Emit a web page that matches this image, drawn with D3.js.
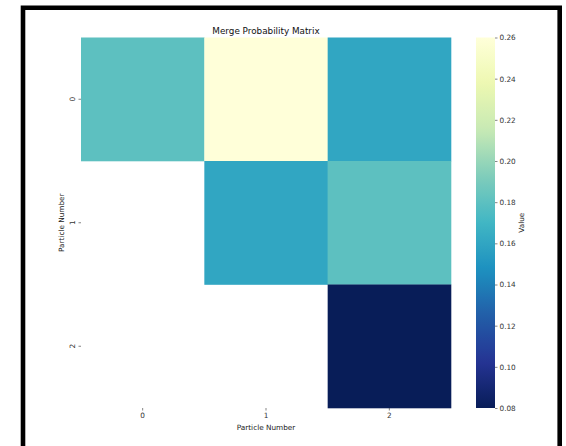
<!DOCTYPE html>
<html>
<head>
<meta charset="utf-8">
<script src="https://cdn.jsdelivr.net/npm/d3@7"></script>
<style>
  html, body { margin: 0; padding: 0; background: #fff; overflow: hidden; }
  svg { display: block; font-family: "DejaVu Sans", sans-serif; }
</style>
</head>
<body>
<div id="chart"></div>
<script>
// particle indices
const particles = ["0", "1", "2"]
// merge probability, upper triangle only (row, col, value)
const rowIdx = [0, 0, 0, 1, 1, 2]
const colIdx = [0, 1, 2, 1, 2, 2]
const probs = [0.18, 0.26, 0.16, 0.16, 0.18, 0.08]
const cbarTicks = [0.08, 0.10, 0.12, 0.14, 0.16, 0.18, 0.20, 0.22, 0.24, 0.26]
// YlGnBu (colorbrewer 9), used reversed
const ylgnbu = ["#ffffd9", "#edf8b1", "#c7e9b4", "#7fcdbb", "#41b6c4", "#1d91c0", "#225ea8", "#253494", "#081d58"]

const W = 566, H = 446
const svg = d3.select("#chart").append("svg").attr("width", W).attr("height", H)

// outer black frame, open at the bottom (cut off by the picture)
svg.append("path")
    .attr("d", "M23,460 L23,7.7 L559.7,7.7 L559.7,460")
    .attr("fill", "none").attr("stroke", "#000").attr("stroke-width", 4.6)

const plot = { left: 81, right: 451, top: 37.5, bottom: 408 }

const x = d3.scaleBand().domain(particles).range([plot.left, plot.right])
const y = d3.scaleBand().domain(particles).range([plot.top, plot.bottom])

const vmin = 0.08, vmax = 0.26
const stops = d3.range(ylgnbu.length).map(i => i / (ylgnbu.length - 1))
const cmap = d3.scaleLinear().domain(stops).range(ylgnbu.slice().reverse()).interpolate(d3.interpolateRgb)
const color = v => cmap((v - vmin) / (vmax - vmin))

const cells = probs.map((v, i) => ({ r: particles[rowIdx[i]], c: particles[colIdx[i]], v }))

svg.append("g").selectAll("rect")
    .data(cells)
    .enter()
    .append("rect")
    .attr("x", d => x(d.c))
    .attr("y", d => y(d.r))
    .attr("width", x.bandwidth() + 0.3)
    .attr("height", y.bandwidth() + 0.3)
    .attr("fill", d => color(d.v))

const tickColor = "#333"
const fs = 7.3

// x axis
const xAxis = svg.append("g")
    .attr("transform", `translate(0,${plot.bottom})`)
    .call(d3.axisBottom(x).tickSize(2.5).tickPadding(2))
xAxis.select(".domain").remove()
xAxis.selectAll("line").attr("stroke", tickColor).attr("stroke-width", 0.6)
xAxis.selectAll("text").attr("font-size", fs).attr("fill", tickColor).attr("font-family", "DejaVu Sans")

// y axis, rotated labels
const yAxis = svg.append("g")
    .attr("transform", `translate(${plot.left},0)`)
    .call(d3.axisLeft(y).tickSize(2.5).tickPadding(2))
yAxis.select(".domain").remove()
yAxis.selectAll("line").attr("stroke", tickColor).attr("stroke-width", 0.6)
yAxis.selectAll("text")
    .attr("font-size", fs).attr("fill", tickColor).attr("font-family", "DejaVu Sans")
    .attr("x", null).attr("dy", null)
    .attr("text-anchor", "middle")
    .attr("transform", "translate(-8,0) rotate(-90)")
    .attr("dominant-baseline", "middle")

// axis labels
svg.append("text")
    .attr("x", (plot.left + plot.right) / 2).attr("y", 429.5)
    .attr("text-anchor", "middle").attr("font-size", fs).attr("fill", "#222")
    .text("Particle Number")

svg.append("text")
    .attr("transform", `translate(63.5,${(plot.top + plot.bottom) / 2}) rotate(-90)`)
    .attr("text-anchor", "middle").attr("font-size", fs).attr("fill", "#222")
    .text("Particle Number")

// title
svg.append("text")
    .attr("x", (plot.left + plot.right) / 2).attr("y", 34)
    .attr("text-anchor", "middle").attr("font-size", 8.8).attr("fill", "#111")
    .text("Merge Probability Matrix")

// colorbar
const cb = { left: 476, right: 495, top: 37.5, bottom: 408 }
const cy = d3.scaleLinear().domain([vmin, vmax]).range([cb.bottom, cb.top])
const defs = svg.append("defs")
const grad = defs.append("linearGradient")
    .attr("id", "cbgrad").attr("x1", 0).attr("y1", 1).attr("x2", 0).attr("y2", 0)
grad.selectAll("stop")
    .data(d3.range(0, 1.0001, 0.02))
    .enter()
    .append("stop")
    .attr("offset", d => d)
    .attr("stop-color", d => cmap(d))

svg.append("rect")
    .attr("x", cb.left).attr("y", cb.top)
    .attr("width", cb.right - cb.left).attr("height", cb.bottom - cb.top)
    .attr("fill", "url(#cbgrad)")

const cAxis = svg.append("g")
    .attr("transform", `translate(${cb.right},0)`)
    .call(d3.axisRight(cy).tickValues(cbarTicks).tickFormat(d3.format(".2f")).tickSize(2.5).tickPadding(2))
cAxis.select(".domain").remove()
cAxis.selectAll("line").attr("stroke", tickColor).attr("stroke-width", 0.6)
cAxis.selectAll("text").attr("font-size", fs).attr("fill", tickColor).attr("font-family", "DejaVu Sans")

svg.append("text")
    .attr("transform", `translate(524,${(cb.top + cb.bottom) / 2}) rotate(-90)`)
    .attr("text-anchor", "middle").attr("font-size", fs).attr("fill", "#222")
    .text("Value")
</script>
</body>
</html>
